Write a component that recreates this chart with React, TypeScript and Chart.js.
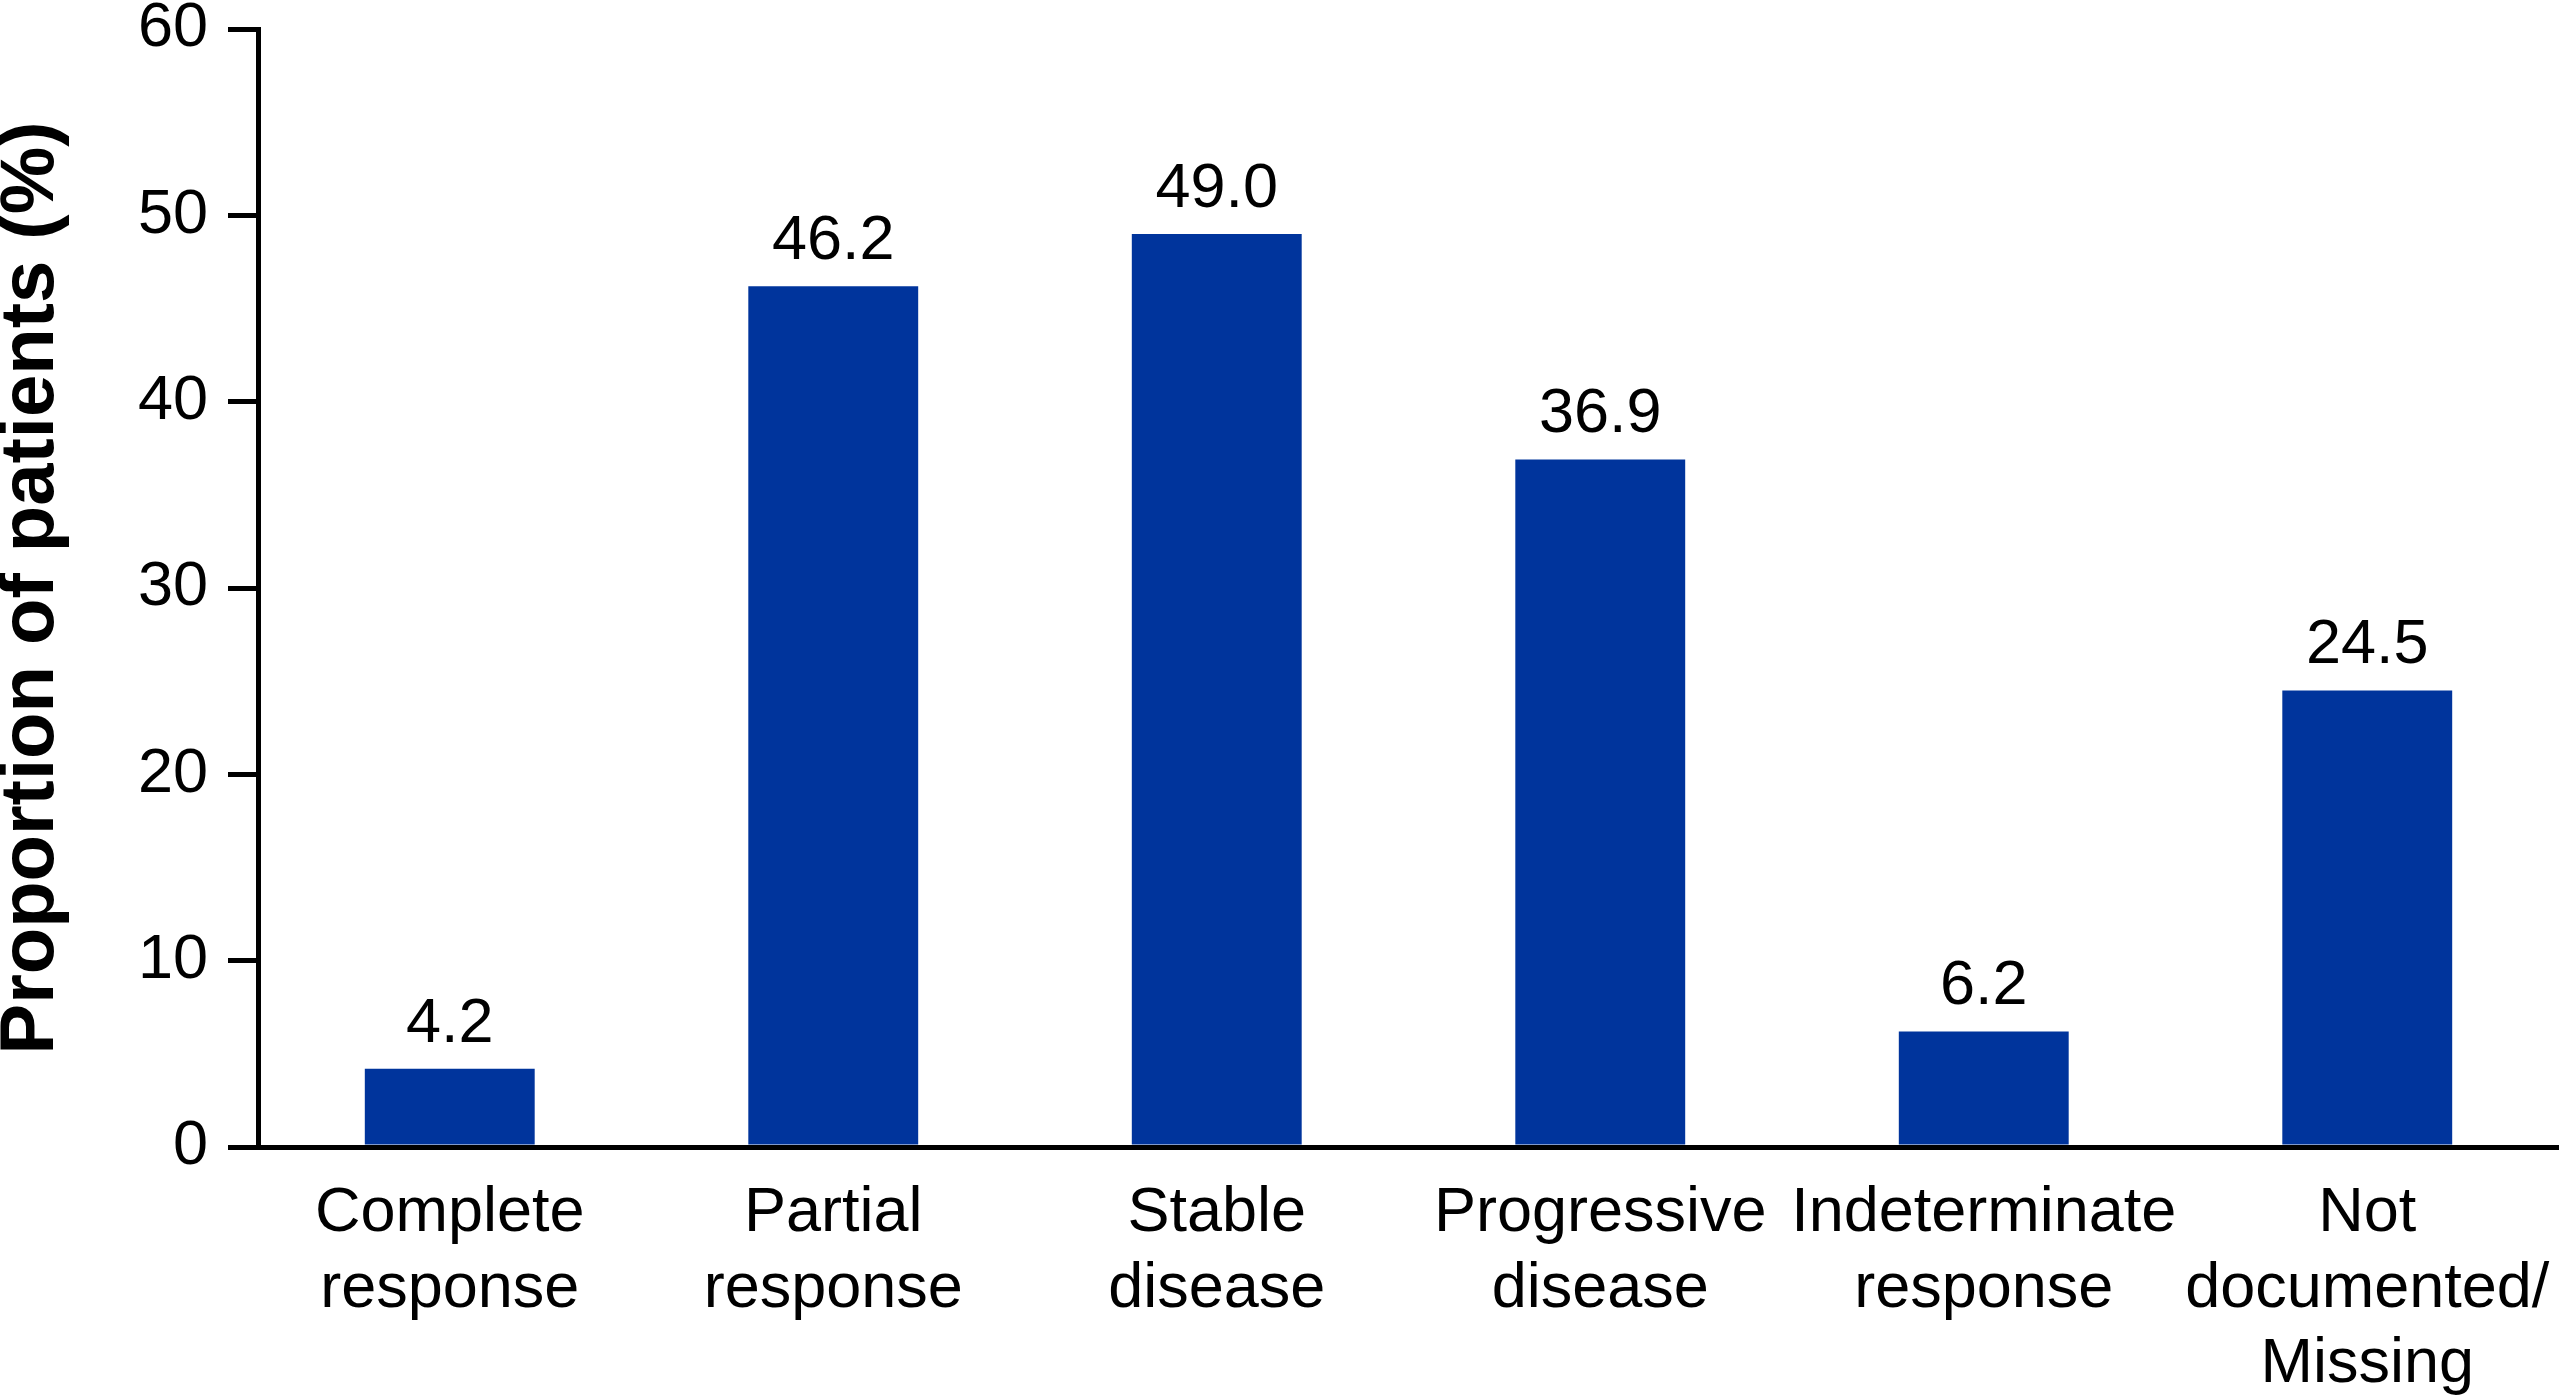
import { useEffect, useRef } from 'react'
import { Chart, ChartConfiguration, Plugin, registerables } from 'chart.js'

Chart.register(...registerables)

const categories: string[][] = [
  ['Complete', 'response'],
  ['Partial', 'response'],
  ['Stable', 'disease'],
  ['Progressive', 'disease'],
  ['Indeterminate', 'response'],
  ['Not', 'documented/', 'Missing'],
]
const proportions = [4.2, 46.2, 49.0, 36.9, 6.2, 24.5]
const yTicks = [0, 10, 20, 30, 40, 50, 60]

const FONT = "'Liberation Sans', Arial, Helvetica, sans-serif"
const BAR_COLOR = '#00349c'

const valueLabels: Plugin<'bar'> = {
  id: 'valueLabels',
  afterDatasetsDraw(chart) {
    const { ctx } = chart
    const meta = chart.getDatasetMeta(0)
    ctx.save()
    ctx.fillStyle = '#000'
    ctx.font = `63px ${FONT}`
    ctx.textAlign = 'center'
    ctx.textBaseline = 'alphabetic'
    meta.data.forEach((bar, i) => {
      ctx.fillText(proportions[i].toFixed(1), bar.x, bar.y - 27)
    })
    ctx.restore()
  },
}

export default function App() {
  const canvasRef = useRef<HTMLCanvasElement>(null)
  const chartRef = useRef<Chart<'bar'>>()

  useEffect(() => {
    if (!canvasRef.current) return
    const ctx = canvasRef.current.getContext('2d')
    if (!ctx) return

    const config: ChartConfiguration<'bar'> = {
      type: 'bar',
      data: {
        labels: categories,
        datasets: [
          {
            data: proportions,
            backgroundColor: BAR_COLOR,
            borderWidth: 0,
            categoryPercentage: 1,
            barPercentage: 0.443,
          },
        ],
      },
      options: {
        responsive: true,
        maintainAspectRatio: false,
        animation: false,
        layout: { padding: 0 },
        plugins: {
          legend: { display: false },
          tooltip: { enabled: false },
        },
        scales: {
          x: {
            offset: true,
            afterFit: (scale) => {
              scale.height = 248
              scale.paddingLeft = 0
              scale.paddingRight = 0
            },
            grid: { display: false },
            border: { display: true, color: '#000', width: 5 },
            ticks: {
              color: '#000',
              font: { family: FONT, size: 63, lineHeight: 1.2 },
              padding: 21,
              maxRotation: 0,
              autoSkip: false,
            },
          },
          y: {
            min: 0,
            max: 60,
            afterFit: (scale) => {
              scale.width = 258
              scale.paddingTop = 29
              scale.paddingBottom = 0
            },
            afterBuildTicks: (scale) => {
              scale.ticks = yTicks.map((v) => ({ value: v }))
            },
            grid: {
              drawOnChartArea: false,
              color: '#000',
              lineWidth: 5,
              tickLength: 30,
              tickWidth: 5,
            },
            border: { display: true, color: '#000', width: 5 },
            ticks: {
              color: '#000',
              font: { family: FONT, size: 63, lineHeight: 0.9 },
              padding: 20,
            },
            title: {
              display: true,
              text: 'Proportion of patients (%)',
              color: '#000',
              font: { family: FONT, size: 76, weight: 'bold', lineHeight: 0.85 },
              padding: 0,
            },
          },
        },
      },
      plugins: [valueLabels],
    }

    if (chartRef.current) chartRef.current.destroy()
    chartRef.current = new Chart(ctx, config)

    return () => {
      if (chartRef.current) {
        chartRef.current.destroy()
        chartRef.current = undefined
      }
    }
  }, [])

  return (
    <div style={{ position: 'fixed', left: 0, top: 0, width: 2559, height: 1395, background: '#fff' }}>
      <canvas ref={canvasRef} />
    </div>
  )
}
